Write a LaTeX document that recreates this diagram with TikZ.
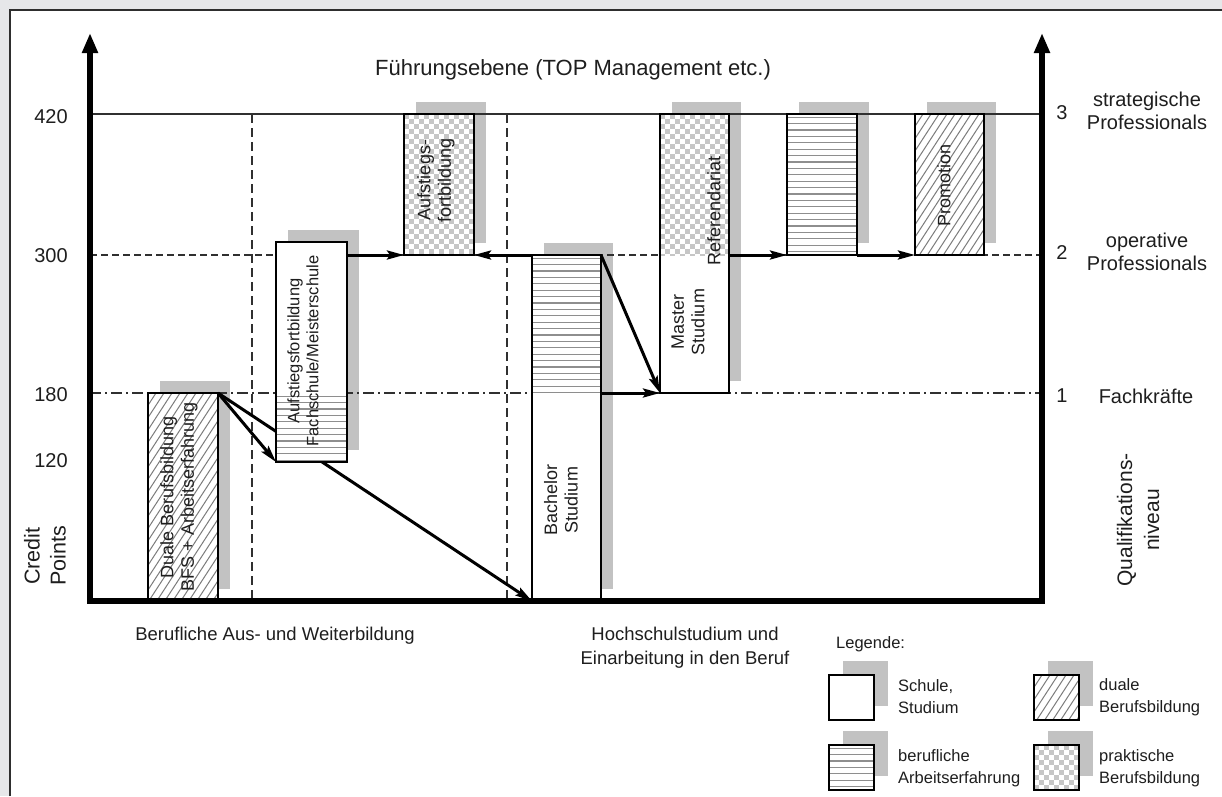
\documentclass[tikz,border=0pt]{standalone}
\usepackage{fontspec}
\setmainfont{Liberation Sans}
\usetikzlibrary{arrows.meta,calc}

\definecolor{pagegrey}{HTML}{E6E7E9}
\definecolor{framecol}{HTML}{2E2E2E}
\definecolor{shadowgrey}{HTML}{C2C2C2}
\definecolor{hatchcol}{HTML}{7C7C7C}
\definecolor{rulecol}{HTML}{8E8E8E}
\definecolor{checkcol}{HTML}{C6C6C6}
\definecolor{levelcol}{HTML}{303030}
\definecolor{inkcol}{HTML}{1E1E1E}

\pgfdeclarelayer{back}
\pgfdeclarelayer{fills}
\pgfsetlayers{back,fills,main}

% diagonal hatching inside the rectangle (#1,#2)-(#3,#4)
\newcommand\diagfill[4]{%
  \begin{scope}
    \clip (#1,#2) rectangle (#3,#4);
    \foreach \k in {0,...,34}{%
      \draw[hatchcol, line width=1pt]
        ({#1-0.65*(#4-#2)+\k*8},#4) -- ++({0.65*(#4-#2)},{-(#4-#2)});
    }
  \end{scope}}
% horizontal rules inside the rectangle
\newcommand\rulefill[4]{%
  \begin{scope}
    \clip (#1,#2) rectangle (#3,#4);
    \foreach \k in {0,...,25}{%
      \draw[rulecol, line width=1.1pt] (#1,{#2+3.2+\k*6.4}) -- (#3,{#2+3.2+\k*6.4});
    }
  \end{scope}}
% checkerboard inside the rectangle
\newcommand\checkfill[4]{%
  \begin{scope}
    \clip (#1,#2) rectangle (#3,#4);
    \foreach \i in {0,...,14}{%
      \foreach \j in {0,...,29}{%
        \pgfmathtruncatemacro\cpar{mod(\i+\j,2)}%
        \ifnum\cpar=0 \fill[checkcol] ({#1+\i*5},{#2+\j*5}) rectangle ++(5,5);\fi
      }}
  \end{scope}}

\tikzset{
  box/.style={draw=black, line width=1.4pt, inner sep=0pt, outer sep=0pt, anchor=north west},
  boxtxt/.style={rotate=90, align=center, inner sep=0pt, text=inkcol, font=\fontsize{18}{20.5}\selectfont},
  lbl/.style={inner sep=0pt, text=inkcol, align=center, font=\fontsize{20}{23}\selectfont},
  legtxt/.style={inner sep=0pt, text=inkcol, anchor=west, align=left, font=\fontsize{16.5}{22}\selectfont},
  flow/.style={line width=3pt, draw=black, -{Stealth[length=17pt,width=9pt,inset=3pt]}},
  axisline/.style={line width=5.5pt, line join=miter, draw=black},
}

\begin{document}
\begin{tikzpicture}[x=1pt,y=-1pt]
\useasboundingbox (0,0) rectangle (1222,796);

% ---------- boxes ----------
\node[box, minimum width=70pt, minimum height=208pt] (bA) at (148,393) {};
\node[box, minimum width=71pt, minimum height=220pt] (bB) at (276,242) {};
\node[box, minimum width=70pt, minimum height=141pt] (bC) at (404,114) {};
\node[box, minimum width=69pt, minimum height=346pt] (bD) at (532,255) {};
\node[box, minimum width=69pt, minimum height=279pt] (bE) at (660,114) {};
\node[box, minimum width=70pt, minimum height=141pt] (bF) at (787,114) {};
\node[box, minimum width=69pt, minimum height=141pt] (bG) at (915,114) {};
% legend boxes
\node[box, minimum width=45pt, minimum height=45pt] (lS) at (829,675) {};
\node[box, minimum width=45pt, minimum height=45pt] (lD) at (1034,675) {};
\node[box, minimum width=45pt, minimum height=45pt] (lA) at (829,745) {};
\node[box, minimum width=45pt, minimum height=45pt] (lP) at (1034,745) {};

% ---------- axis and level coordinates ----------
\coordinate (ltop) at (90,33);
\coordinate (origin) at (90,601);
\coordinate (rbot) at (1042,601);
\coordinate (rtop) at (1042,33);
\coordinate (l420a) at (90,114);   \coordinate (l420b) at (1042,114);
\coordinate (l300a) at (90,255);   \coordinate (l300b) at (1042,255);
\coordinate (l180a) at (90,393);   \coordinate (l180b) at (1042,393);
\coordinate (v1a) at (252,114);    \coordinate (v1b) at (252,601);
\coordinate (v2a) at (507,114);    \coordinate (v2b) at (507,601);

% ---------- background, shadows, level lines ----------
\begin{pgfonlayer}{back}
  \fill[pagegrey] (0,0) rectangle (1222,796);
  \fill[white] (10,10) rectangle (1222,796);
  \draw[framecol, line width=2.5pt] (10,796) -- (10,10) -- (1222,10);
  \foreach \b in {bA,bB,bC,bD,bE,bF,bG}
    \fill[shadowgrey] ($(\b.north west)+(12,-12)$) rectangle ($(\b.south east)+(12,-12)$);
  \foreach \b in {lS,lD,lA,lP}
    \fill[shadowgrey] ($(\b.north west)+(14,-14)$) rectangle ($(\b.south east)+(14,-14)$);
  \draw[levelcol, line width=1.6pt] (l420a) -- (l420b);
  \draw[levelcol, line width=1.3pt, dash pattern=on 7pt off 4pt] (l300a) -- (l300b);
  \draw[levelcol, line width=1.3pt, dash pattern=on 11pt off 4pt on 2pt off 4pt] (l180a) -- (l180b);
  \draw[levelcol, line width=1.3pt, dash pattern=on 9pt off 5pt] (v1a) -- (v1b);
  \draw[levelcol, line width=1.3pt, dash pattern=on 9pt off 5pt] (v2a) -- (v2b);
  % path from dual training into the bachelor programme, passing under the further-training box
  \draw[flow] (bA.north east) -- (bD.south west);
\end{pgfonlayer}

% ---------- box fillings ----------
\begin{pgfonlayer}{fills}
  \foreach \b in {bA,bB,bC,bD,bE,bF,bG,lS,lD,lA,lP}
    \fill[white] (\b.north west) rectangle (\b.south east);
  \diagfill{148}{393}{218}{601}
  \rulefill{276}{393}{347}{462}
  \checkfill{404}{114}{474}{255}
  \rulefill{532}{255}{601}{393}
  \checkfill{660}{114}{729}{255}
  \rulefill{787}{114}{857}{255}
  \diagfill{915}{114}{984}{255}
  \diagfill{1034}{675}{1079}{720}
  \rulefill{829}{745}{874}{790}
  \checkfill{1034}{745}{1079}{790}
\end{pgfonlayer}

% ---------- box texts ----------
\node[boxtxt] (tA) at (179,497) {Duale Berufsbildung\\BFS + Arbeitserfahrung};
\node[boxtxt, font=\fontsize{16.5}{19}\selectfont] (tB) at (303,351) {Aufstiegsfortbildung\\Fachschule/Meisterschule};
\node[boxtxt] (tC) at (436,180) {Aufstiegs-\\fortbildung};
\node[boxtxt] (tD) at (561,500) {Bachelor\\Studium};
\node[boxtxt] (tE) at (688,322) {Master\\Studium};
\node[boxtxt] (tR) at (714,211) {Referendariat};
\node[boxtxt] (tG) at (944,185) {Promotion};

% ---------- transitions ----------
\draw[flow] (bA.north east) -- (bB.south west);
\draw[flow] (bB.east |- bC.south) -- (bC.south west);
\draw[flow] (bD.north west) -- (bC.south east);
\draw[flow] (bD.north east) -- (bE.south west);
\draw[flow] (bD.east |- bE.south) -- (bE.south west);
\draw[flow] (bE.east |- bF.south) -- (bF.south west);
\draw[flow] (bF.south east) -- (bG.south west);

% ---------- axes ----------
\draw[axisline, {Triangle[length=20pt,width=15pt]}-{Triangle[length=20pt,width=15pt]}]
  (ltop) -- (origin) -- (rbot) -- (rtop);

% ---------- labels ----------
\node[lbl, font=\fontsize{22}{26}\selectfont] (title) at (573,70) {Führungsebene (TOP Management etc.)};
\node[lbl] (n420) at (51,117) {420};
\node[lbl] (n300) at (51,256) {300};
\node[lbl] (n180) at (51,395) {180};
\node[lbl] (n120) at (51,461) {120};
\node[lbl, rotate=90, font=\fontsize{21.5}{26}\selectfont] (credit) at (45,556) {Credit\\Points};
\node[lbl] (q3) at (1062,113) {3};
\node[lbl] (q2) at (1062,253) {2};
\node[lbl] (q1) at (1062,396) {1};
\node[lbl] (strat) at (1147,111) {strategische\\Professionals};
\node[lbl] (oper) at (1147,252) {operative\\Professionals};
\node[lbl] (fach) at (1146,396) {Fachkräfte};
\node[lbl, rotate=90, font=\fontsize{21}{27}\selectfont] (qual) at (1138,520) {Qualifikations-\\niveau};
\node[lbl, font=\fontsize{18.5}{24}\selectfont] (berufl) at (275,636) {Berufliche Aus- und Weiterbildung};
\node[lbl, font=\fontsize{18.5}{24}\selectfont] (hoch) at (685,648) {Hochschulstudium und\\Einarbeitung in den Beruf};

% ---------- legend ----------
\node[legtxt] (leg) at (836,644) {Legende:};
\node[legtxt] (legS) at (898,697) {Schule,\\Studium};
\node[legtxt] (legD) at (1099,697) {duale\\Berufsbildung};
\node[legtxt] (legA) at (898,768) {berufliche\\Arbeitserfahrung};
\node[legtxt] (legP) at (1099,768) {praktische\\Berufsbildung};
\end{tikzpicture}
\end{document}
